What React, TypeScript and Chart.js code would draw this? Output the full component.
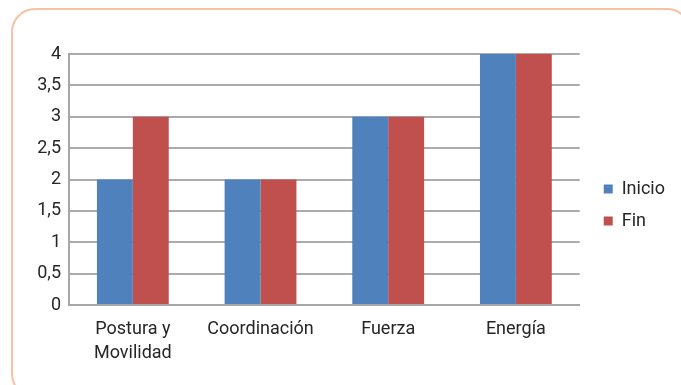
import React, { useEffect, useRef } from "react";
import { Chart, registerables } from "chart.js";

Chart.register(...registerables);

const categories: (string | string[])[] = [["Postura y", "Movilidad"], "Coordinación", "Fuerza", "Energía"];
const inicio = [2, 2, 3, 4];
const fin = [3, 2, 3, 4];
const seriesNames = ["Inicio", "Fin"];

const legendShift = {
  id: "legendShift",
  afterLayout(chart: any) {
    if (chart.legend) {
      chart.legend.left += 10;
      chart.legend.right += 10;
    }
  },
};

export default function App() {
  const ref = useRef<HTMLCanvasElement | null>(null);
  useEffect(() => {
    if (!ref.current) return;
    const font = { family: "Roboto", size: 18 };
    const chart = new Chart(ref.current, {
      type: "bar",
      data: {
        labels: categories,
        datasets: [
          { label: seriesNames[0], data: inicio, backgroundColor: "#4F81BD", categoryPercentage: 0.5625, barPercentage: 1 },
          { label: seriesNames[1], data: fin, backgroundColor: "#C0504D", categoryPercentage: 0.5625, barPercentage: 1 },
        ],
      },
      plugins: [legendShift],
      options: {
        animation: false,
        responsive: false,
        maintainAspectRatio: false,
        layout: { padding: { left: 20, top: 33, right: 16, bottom: 8 } },
        plugins: {
          tooltip: { enabled: false },
          title: { display: true, text: "", fullSize: false, font: { size: 10, lineHeight: 1 }, padding: { top: 0, bottom: 11 } },
          legend: {
            position: "right",
            labels: { font, color: "#262626", boxWidth: 9, boxHeight: 9, padding: 14 },
          },
        },
        scales: {
          x: {
            grid: { display: false, drawTicks: false },
            border: { display: true, color: "#A6A6A6", width: 2 },
            ticks: { font: { ...font, lineHeight: 1.333 }, color: "#262626", padding: 12, maxRotation: 0, autoSkip: false },
          },
          y: {
            min: 0,
            max: 4,
            afterFit: (s: any) => { s.width = 49; },
            grid: { color: "#ABABAB", lineWidth: 2, drawTicks: false },
            border: { display: true, color: "#A6A6A6", width: 2 },
            ticks: { stepSize: 0.5, font, color: "#262626", padding: 8, callback: (v: any) => String(v).replace(".", ",") },
          },
        },
      },
    });
    return () => chart.destroy();
  }, []);
  return (
    <div style={{ position: "fixed", left: 0, top: 0, width: 681, height: 385, overflow: "hidden", background: "#fff" }}>
      <div style={{ position: "absolute", left: 11, top: 8, width: 680, height: 390, border: "2px solid #FBBFA3", borderRadius: 24, boxSizing: "border-box" }} />
      <canvas ref={ref} width={681} height={385} style={{ position: "absolute", left: 0, top: 0 }} />
    </div>
  );
}
